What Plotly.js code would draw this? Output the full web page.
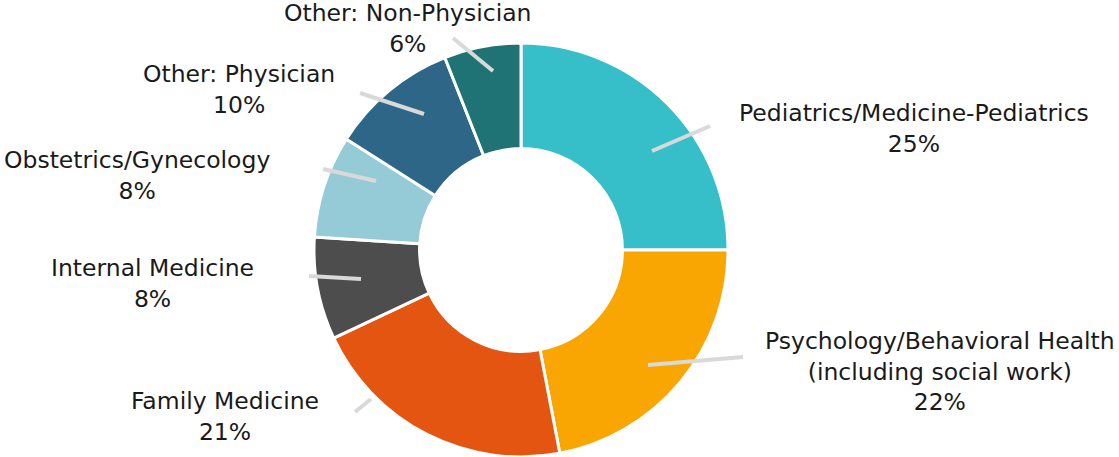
<!DOCTYPE html>
<html>
<head>
<meta charset="utf-8">
<script src="https://cdn.plot.ly/plotly-3.0.1.min.js"></script>
<style>html,body{margin:0;padding:0;background:#fff;}#chart{width:1119px;height:457px;}</style>
</head>
<body>
<div id="chart"></div>
<script>
// ---- data ----
var categories = [
  "Pediatrics/Medicine-Pediatrics",
  "Psychology/Behavioral Health<br>(including social work)",
  "Family Medicine",
  "Internal Medicine",
  "Obstetrics/Gynecology",
  "Other: Physician",
  "Other: Non-Physician"
];
var shares = [25, 22, 21, 8, 8, 10, 6];
var colors = ["#36BFC8", "#F9A602", "#E35511", "#4D4D4D", "#95CAD7", "#2E6687", "#1F7374"];

// ---- layout (pixel positions of labels and leader lines) ----
var W = 1119, H = 457;
var labelPos = [[914, 128.5], [940, 371], [225, 416.5], [152, 283], [137, 175], [239, 89.5], [408, 28.5]];
var leaderLines = [
  [[652, 151], [710, 126]],
  [[648, 365], [743, 357]],
  [[371, 399], [355, 412]],
  [[361, 279], [309, 276]],
  [[376, 181], [323, 169]],
  [[424, 114], [360, 93]],
  [[493, 71], [453, 38]]
];
function px(x) { return x / W; }
function py(y) { return 1 - y / H; }

var annotations = categories.map(function (c, i) {
  return {
    text: c + "<br>" + shares[i] + "%",
    x: px(labelPos[i][0]), y: py(labelPos[i][1]),
    xref: "paper", yref: "paper",
    xanchor: "center", yanchor: "middle",
    showarrow: false, align: "center",
    font: {family: "DejaVu Sans", size: 23.5, color: "#1a1a1a"}
  };
});
var shapes = leaderLines.map(function (l) {
  return {
    type: "line", xref: "paper", yref: "paper",
    x0: px(l[0][0]), y0: py(l[0][1]), x1: px(l[1][0]), y1: py(l[1][1]),
    line: {color: "#D9D9D9", width: 4}
  };
});

var trace = {
  type: "pie",
  labels: categories,
  values: shares,
  hole: 0.49,
  sort: false,
  direction: "clockwise",
  rotation: 0,
  textinfo: "none",
  hoverinfo: "label+percent",
  marker: {colors: colors, line: {color: "#ffffff", width: 3}},
  domain: {x: [px(314), px(728)], y: [py(457), py(43)]},
  showlegend: false
};

Plotly.newPlot("chart", [trace], {
  width: W, height: H,
  margin: {l: 0, r: 0, t: 0, b: 0},
  paper_bgcolor: "#ffffff",
  showlegend: false,
  annotations: annotations,
  shapes: shapes
}, {displayModeBar: false, staticPlot: true});
</script>
</body>
</html>
